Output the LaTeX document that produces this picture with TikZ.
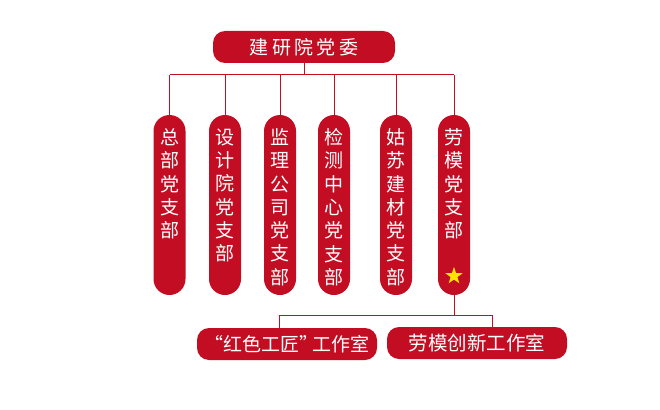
\documentclass[tikz,border=0pt]{standalone}
\usepackage{fontspec}
\setmainfont{Noto Sans CJK SC}
\usetikzlibrary{shapes.geometric,calc}
\definecolor{partyred}{HTML}{C30D23}
\definecolor{starfill}{HTML}{FFE400}
\tikzset{
  redbox/.style={fill=partyred, rounded corners=12pt, inner sep=0pt, minimum height=32pt, text=white},
  pill/.style={fill=partyred, rounded corners=16pt, inner sep=0pt, minimum width=32pt, minimum height=180pt},
  pilltext/.style={anchor=north, inner sep=0pt, align=center, text=white, font=\fontsize{19}{23.3}\selectfont},
  conn/.style={draw=partyred, line width=1pt},
  yellowstar/.style={star, star points=5, star point ratio=2.5, fill=starfill, inner sep=0pt, minimum size=18pt}
}
\begin{document}
\begin{tikzpicture}[x=1pt, y=-1pt]
\useasboundingbox (0,0) rectangle (660,409);
% top
\node[redbox, minimum width=182pt, font=\fontsize{19}{22}\selectfont] (top) at (304,47) {建\hspace{3.5pt}研\hspace{3.5pt}院\hspace{3.5pt}党\hspace{3.5pt}委};
% pills
\node[pill] (p1) at (169.5,205) {};
\node[pill] (p2) at (225,205) {};
\node[pill] (p3) at (280,205) {};
\node[pill] (p4) at (334,205) {};
\node[pill] (p5) at (396,205) {};
\node[pill] (p6) at (454,205) {};
\node[pilltext] (t1) at ($(p1.north)+(0,13.5)$) {总\\部\\党\\支\\部};
\node[pilltext] (t2) at ($(p2.north)+(0,13.5)$) {设\\计\\院\\党\\支\\部};
\node[pilltext] (t3) at ($(p3.north)+(0,13.5)$) {监\\理\\公\\司\\党\\支\\部};
\node[pilltext] (t4) at ($(p4.north)+(0,13.5)$) {检\\测\\中\\心\\党\\支\\部};
\node[pilltext] (t5) at ($(p5.north)+(0,13.5)$) {姑\\苏\\建\\材\\党\\支\\部};
\node[pilltext] (t6) at ($(p6.north)+(0,13.5)$) {劳\\模\\党\\支\\部};
\node[yellowstar] (st) at (454,276) {};
% top connectors
\coordinate (hub) at (304,75);
\draw[conn] (top.south) -- (hub);
\draw[conn] (p1.north |- hub) -- (p6.north |- hub);
\foreach \i in {1,...,6} {\draw[conn] (p\i.north) -- (p\i.north |- hub);}
% bottom
\node[redbox, minimum width=180pt, font=\fontsize{19}{22}\selectfont] (b1) at (287,344) {“红色工匠”\kern-6pt 工作室};
\node[redbox, minimum width=180pt, font=\fontsize{19.5}{22}\selectfont] (b2) at (477,343) {劳模创新工作室};
\coordinate (bl) at (279,315);
\coordinate (br) at (492,315);
\draw[conn] (p6.south) -- (p6.south |- bl);
\draw[conn] (bl) -- (br);
\draw[conn] (bl) -- (bl |- b1.north);
\draw[conn] (br) -- (br |- b2.north);
\end{tikzpicture}
\end{document}
